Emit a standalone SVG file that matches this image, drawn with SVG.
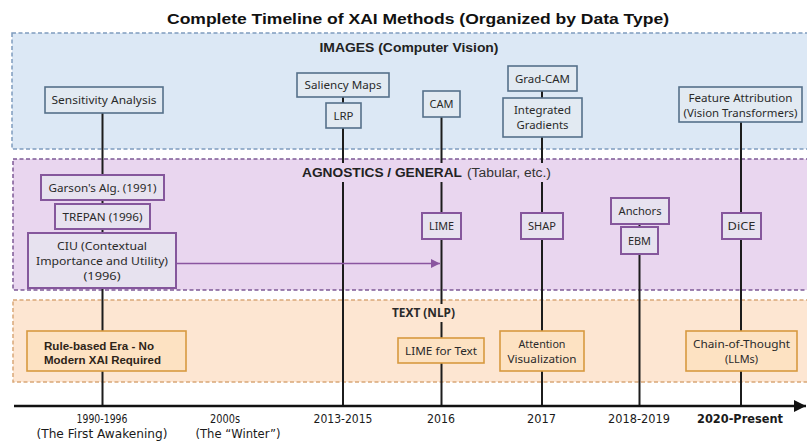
<svg xmlns="http://www.w3.org/2000/svg" width="807" height="445" viewBox="0 0 807 445">
<style>
.pi{fill:#dce8f5;stroke:#7f9cbf;stroke-width:1.5;stroke-dasharray:4 2.5}
.pa{fill:#e9d6ef;stroke:#7e5a96;stroke-width:1.5;stroke-dasharray:4 2.5}
.pt{fill:#fde6d2;stroke:#d9a878;stroke-width:1.5;stroke-dasharray:4 2.5}
.bi{fill:#e2eaf2;stroke:#56708a;stroke-width:1.6}
.ba{fill:#e7e2ef;stroke:#85579c;stroke-width:2}
.bt{fill:#fde2c2;stroke:#d79a40;stroke-width:1.6}
.ln{stroke:#1c1c1c;stroke-width:2;fill:none}
.ttl{font-family:"Liberation Sans",Arial,sans-serif;font-weight:bold;font-size:15px;fill:#111;text-anchor:middle}
.hd{font-family:"Liberation Sans",Arial,sans-serif;font-weight:bold;font-size:12.5px;fill:#222}
.hn{font-family:"Liberation Sans",Arial,sans-serif;font-size:12.5px;fill:#333}
.lb{font-family:"Noto Sans",sans-serif;font-size:11.5px;fill:#2a2a2a;text-anchor:middle}
.lbb{font-family:"Liberation Sans",Arial,sans-serif;font-weight:bold;font-size:11px;fill:#2e2418}
.ax{font-family:"DejaVu Sans",sans-serif;font-size:12px;fill:#1a1a1a;text-anchor:middle}
</style>
<defs>
<marker id="ap" viewBox="0 0 10 10" refX="10" refY="5" markerWidth="9" markerHeight="9" markerUnits="userSpaceOnUse" orient="auto"><path d="M0,0 L10,5 L0,10 z" fill="#8a55a0"/></marker>
<marker id="ak" viewBox="0 0 10 10" refX="10" refY="5" markerWidth="12" markerHeight="12" markerUnits="userSpaceOnUse" orient="auto"><path d="M0,0 L10,5 L0,10 z" fill="#111"/></marker>
</defs>
<rect width="807" height="445" fill="#fff"/>
<text class="ttl" x="418" y="24" textLength="502" lengthAdjust="spacingAndGlyphs">Complete Timeline of XAI Methods (Organized by Data Type)</text>

<g id="panel-images">
<rect class="pi" x="12" y="33" width="796" height="116"/>
</g>
<g id="panel-agnostics">
<rect class="pa" x="13" y="159" width="795" height="131"/>
</g>
<g id="panel-text">
<rect class="pt" x="13" y="300" width="795" height="82"/>
</g>

<g id="connectors">
<line class="ln" x1="102.5" y1="113" x2="102.5" y2="406"/>
<line class="ln" x1="343" y1="97" x2="343" y2="406"/>
<line class="ln" x1="441.5" y1="117" x2="441.5" y2="406"/>
<line class="ln" x1="542" y1="91" x2="542" y2="406"/>
<line class="ln" x1="639.5" y1="224" x2="639.5" y2="406"/>
<line class="ln" x1="741" y1="122" x2="741" y2="406"/>
<line x1="176" y1="263.5" x2="440" y2="263.5" stroke="#8a55a0" stroke-width="1.6" marker-end="url(#ap)"/>
<line x1="14" y1="406" x2="806" y2="406" stroke="#111" stroke-width="2.5" marker-end="url(#ak)"/>
</g>

<g id="header-images">
<text class="hd" x="409" y="52" text-anchor="middle" textLength="179" lengthAdjust="spacingAndGlyphs">IMAGES (Computer Vision)</text>
</g>
<g id="header-agnostics">
<rect x="299" y="163" width="255" height="19" fill="#e9d6ef"/>
<text class="hd" x="302" y="177" textLength="160" lengthAdjust="spacingAndGlyphs">AGNOSTICS / GENERAL</text>
<text class="hn" x="467" y="177" textLength="84" lengthAdjust="spacingAndGlyphs">(Tabular, etc.)</text>
</g>
<g id="header-text">
<rect x="389" y="304" width="69" height="18" fill="#fde6d2"/>
<text class="lb" x="423.5" y="317" font-weight="bold" textLength="63" lengthAdjust="spacingAndGlyphs">TEXT (NLP)</text>
</g>

<g id="sensitivity-analysis">
<rect class="bi" x="45" y="87" width="118" height="26"/>
<text class="lb" x="104" y="104" textLength="105" lengthAdjust="spacingAndGlyphs">Sensitivity Analysis</text>
</g>
<g id="saliency-maps">
<rect class="bi" x="297" y="73" width="92" height="24"/>
<text class="lb" x="343" y="89" textLength="77" lengthAdjust="spacingAndGlyphs">Saliency Maps</text>
</g>
<g id="lrp">
<rect class="bi" x="326" y="103" width="35" height="25"/>
<text class="lb" x="343.5" y="120" textLength="20" lengthAdjust="spacingAndGlyphs">LRP</text>
</g>
<g id="cam">
<rect class="bi" x="423" y="91" width="37" height="26"/>
<text class="lb" x="441.5" y="108" textLength="24" lengthAdjust="spacingAndGlyphs">CAM</text>
</g>
<g id="grad-cam">
<rect class="bi" x="508" y="66" width="69" height="25"/>
<text class="lb" x="542.5" y="83" textLength="55" lengthAdjust="spacingAndGlyphs">Grad-CAM</text>
</g>
<g id="integrated-gradients">
<rect class="bi" x="503" y="98" width="79" height="39"/>
<text class="lb" x="542.5" y="114" textLength="57" lengthAdjust="spacingAndGlyphs">Integrated</text>
<text class="lb" x="542.5" y="129" textLength="52" lengthAdjust="spacingAndGlyphs">Gradients</text>
</g>
<g id="feature-attribution">
<rect class="bi" x="679" y="87" width="123" height="35"/>
<text class="lb" x="740.5" y="102" textLength="104" lengthAdjust="spacingAndGlyphs">Feature Attribution</text>
<text class="lb" x="740.5" y="117" textLength="114" lengthAdjust="spacingAndGlyphs">(Vision Transformers)</text>
</g>

<g id="garsons-alg">
<rect class="ba" x="41" y="175" width="123" height="25"/>
<text class="lb" x="102.5" y="192" textLength="108" lengthAdjust="spacingAndGlyphs">Garson's Alg. (1991)</text>
</g>
<g id="trepan">
<rect class="ba" x="55" y="204" width="95" height="25"/>
<text class="lb" x="102.5" y="221" textLength="80" lengthAdjust="spacingAndGlyphs">TREPAN (1996)</text>
</g>
<g id="ciu">
<rect class="ba" x="28" y="233" width="148" height="55"/>
<text class="lb" x="102" y="250" textLength="90" lengthAdjust="spacingAndGlyphs">CIU (Contextual</text>
<text class="lb" x="102" y="265" textLength="132" lengthAdjust="spacingAndGlyphs">Importance and Utility)</text>
<text class="lb" x="102" y="280" textLength="37" lengthAdjust="spacingAndGlyphs">(1996)</text>
</g>
<g id="lime">
<rect class="ba" x="422" y="213" width="39" height="26"/>
<text class="lb" x="441.5" y="230" textLength="25" lengthAdjust="spacingAndGlyphs">LIME</text>
</g>
<g id="shap">
<rect class="ba" x="521" y="213" width="42" height="26"/>
<text class="lb" x="542" y="230" textLength="28" lengthAdjust="spacingAndGlyphs">SHAP</text>
</g>
<g id="anchors">
<rect class="ba" x="611" y="198" width="58" height="26"/>
<text class="lb" x="640" y="215" textLength="43" lengthAdjust="spacingAndGlyphs">Anchors</text>
</g>
<g id="ebm">
<rect class="ba" x="621" y="227" width="37" height="27"/>
<text class="lb" x="639.5" y="245" textLength="23" lengthAdjust="spacingAndGlyphs">EBM</text>
</g>
<g id="dice">
<rect class="ba" x="722" y="213" width="39" height="26"/>
<text class="lb" x="741.5" y="230" textLength="28" lengthAdjust="spacingAndGlyphs">DiCE</text>
</g>

<g id="rule-based-era">
<rect class="bt" x="27" y="331" width="159" height="40"/>
<text class="lbb" x="44" y="350" textLength="110" lengthAdjust="spacingAndGlyphs">Rule-based Era - No</text>
<text class="lbb" x="44" y="364" textLength="117" lengthAdjust="spacingAndGlyphs">Modern XAI Required</text>
</g>
<g id="lime-for-text">
<rect class="bt" x="398" y="338" width="86" height="25"/>
<text class="lb" x="441" y="355" textLength="72" lengthAdjust="spacingAndGlyphs">LIME for Text</text>
</g>
<g id="attention-visualization">
<rect class="bt" x="500" y="331" width="84" height="40"/>
<text class="lb" x="542" y="348" textLength="47" lengthAdjust="spacingAndGlyphs">Attention</text>
<text class="lb" x="542" y="363" textLength="69" lengthAdjust="spacingAndGlyphs">Visualization</text>
</g>
<g id="chain-of-thought">
<rect class="bt" x="686" y="331" width="111" height="40"/>
<text class="lb" x="741.5" y="348" textLength="97" lengthAdjust="spacingAndGlyphs">Chain-of-Thought</text>
<text class="lb" x="741.5" y="363" textLength="33" lengthAdjust="spacingAndGlyphs">(LLMs)</text>
</g>

<g id="axis-labels">
<text class="ax" x="102" y="423" textLength="51" lengthAdjust="spacingAndGlyphs">1990-1996</text>
<text class="ax" x="102" y="438" textLength="131" lengthAdjust="spacingAndGlyphs">(The First Awakening)</text>
<text class="ax" x="225" y="423" textLength="30" lengthAdjust="spacingAndGlyphs">2000s</text>
<text class="ax" x="238" y="438" textLength="85" lengthAdjust="spacingAndGlyphs">(The “Winter”)</text>
<text class="ax" x="343" y="423" textLength="59" lengthAdjust="spacingAndGlyphs">2013-2015</text>
<text class="ax" x="441" y="423" textLength="28" lengthAdjust="spacingAndGlyphs">2016</text>
<text class="ax" x="541.5" y="423" textLength="29" lengthAdjust="spacingAndGlyphs">2017</text>
<text class="ax" x="639" y="423" textLength="62" lengthAdjust="spacingAndGlyphs">2018-2019</text>
<text class="ax" x="740" y="423" font-weight="bold" textLength="86" lengthAdjust="spacingAndGlyphs">2020-Present</text>
</g>
</svg>
